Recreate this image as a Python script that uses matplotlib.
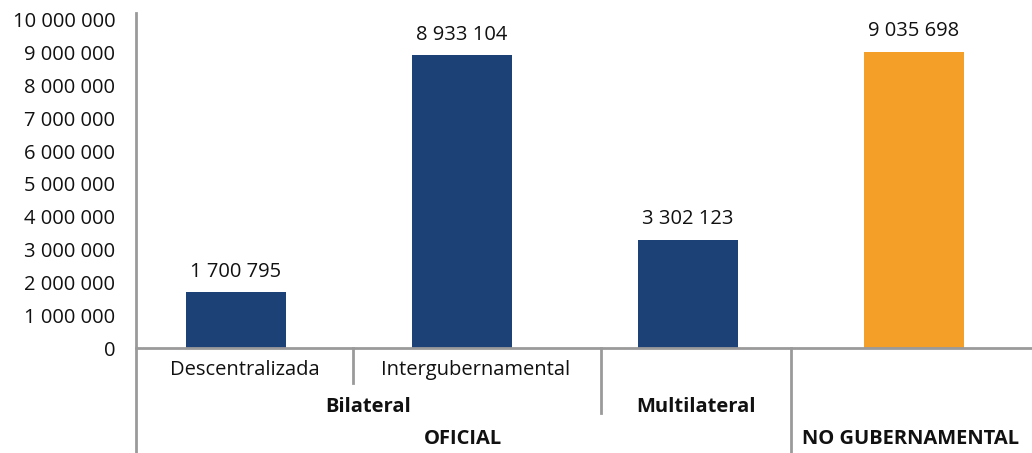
import matplotlib.pyplot as plt

plt.rcParams['font.family'] = ['Open Sans', 'DejaVu Sans']

# data
categories = ['Descentralizada', 'Intergubernamental', 'Multilateral', 'NO GUBERNAMENTAL']
values = [1700795, 8933104, 3302123, 9035698]
colors = ['#1C4176', '#1C4176', '#1C4176', '#F4A028']
yticks = [0, 1000000, 2000000, 3000000, 4000000, 5000000,
          6000000, 7000000, 8000000, 9000000, 10000000]


def fmt(v):
    return '{:,}'.format(v).replace(',', ' ')


fig = plt.figure(figsize=(10.32, 4.53), dpi=100)
ax = fig.add_axes([136 / 1032, 105 / 453, (1032 - 136) / 1032, (348 - 13) / 453])

x = list(range(len(values)))
ax.bar(x, values, width=0.442, color=colors, zorder=2)
for xi, v in zip(x, values):
    ax.text(xi, v + 620000, fmt(v), ha='center', va='center', fontsize=14.5, color='#111111')

ax.set_xlim(-0.442, 3.522)
ax.set_ylim(0, 10213000)
ax.set_yticks(yticks)
ax.set_yticklabels([fmt(t) for t in yticks], fontsize=14.5, color='#111111')
ax.tick_params(axis='y', length=0, pad=15)
ax.set_xticks([])

for s in ['top', 'right']:
    ax.spines[s].set_visible(False)
ax.spines['left'].set_visible(False)
ax.spines['bottom'].set_color('#9A9A9A')
ax.spines['bottom'].set_linewidth(2)

# multi-level category axis (figure pixel coords)
def px(xp, yp):
    return xp / 1032, 1 - yp / 453

gray = '#9A9A9A'
lines = [((136, 13), (136, 453)),
         ((353, 348), (353, 383)),
         ((601, 348), (601, 413)),
         ((791, 348), (791, 453))]
for (x0, y0), (x1, y1) in lines:
    a = px(x0, y0)
    b = px(x1, y1)
    fig.add_artist(plt.Line2D([a[0], b[0]], [a[1], b[1]], color=gray, lw=2,
                              transform=fig.transFigure))

labels = [('Descentralizada', 245, 370, 'normal'),
          ('Intergubernamental', 476, 370, 'normal'),
          ('Bilateral', 368, 407, 'bold'),
          ('Multilateral', 696, 407, 'bold'),
          ('OFICIAL', 463, 439, 'bold'),
          ('NO GUBERNAMENTAL', 911, 439, 'bold')]
for txt, xp, yp, w in labels:
    p = px(xp, yp)
    fig.text(p[0], p[1], txt, ha='center', va='center', fontsize=14.5,
             fontweight=w, color='#111111')

plt.savefig('out.png', dpi=100)
plt.close()
